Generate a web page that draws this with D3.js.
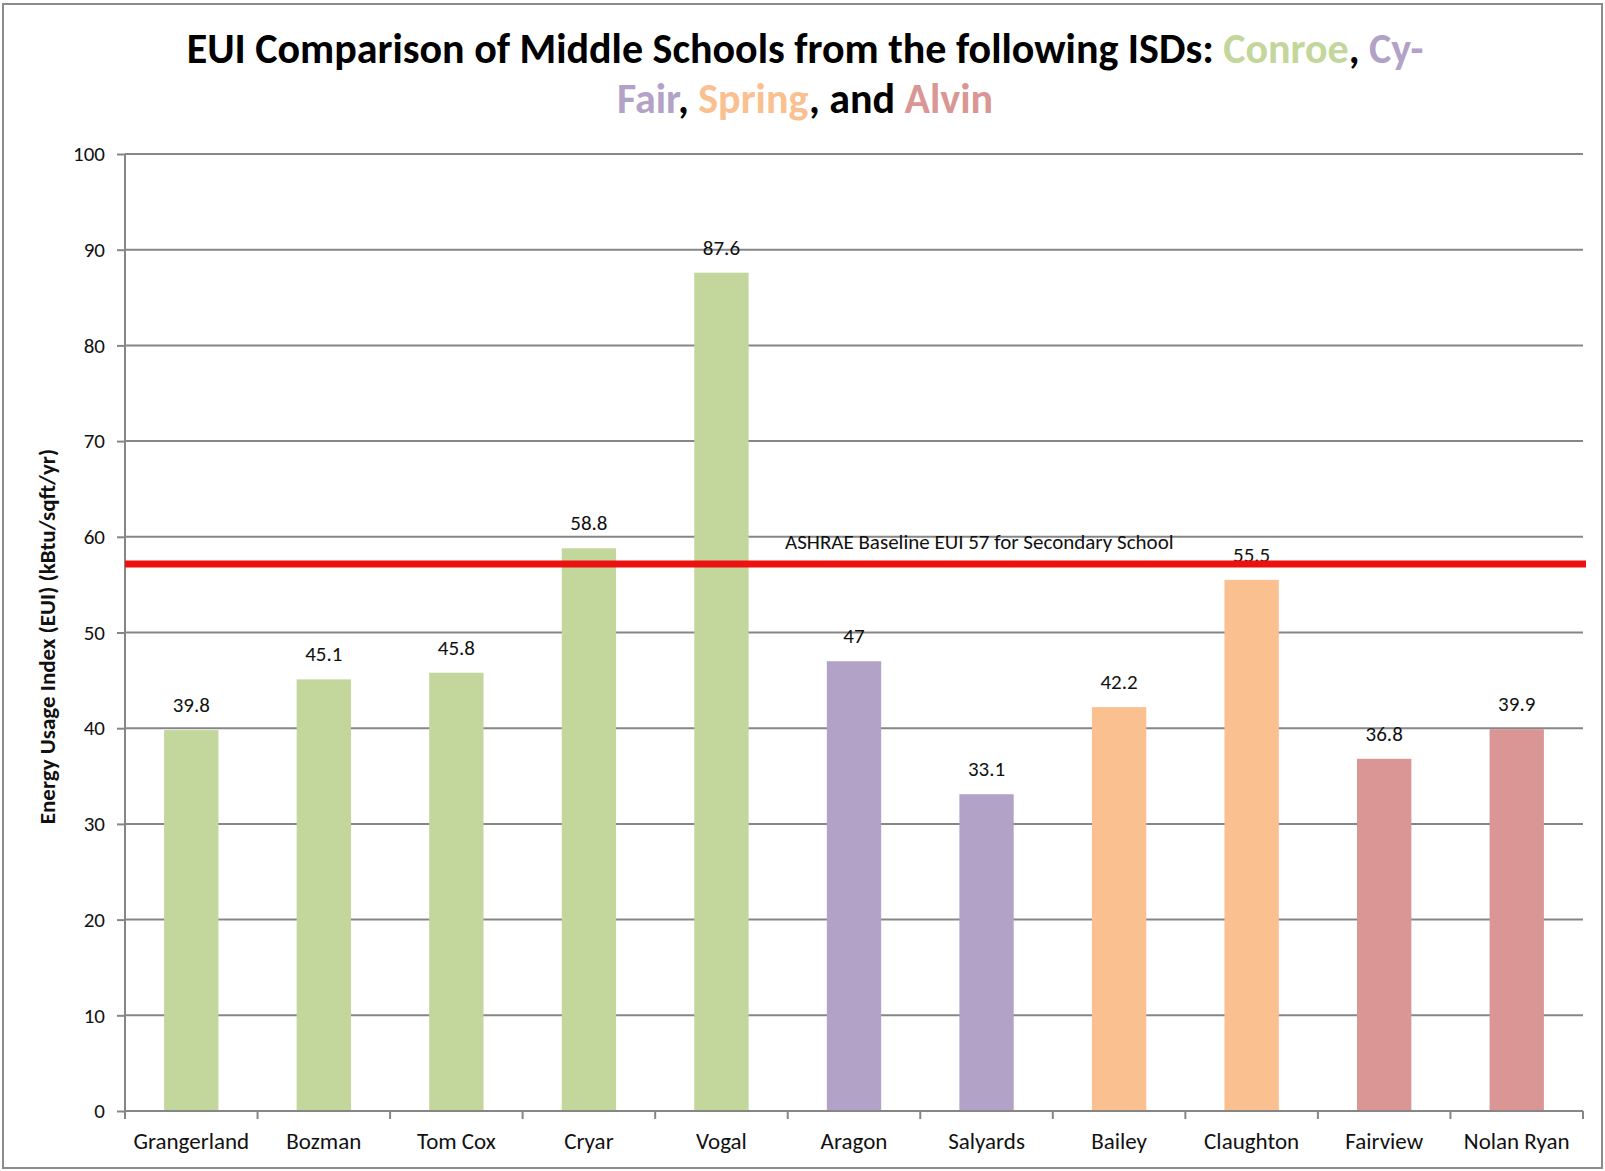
<!DOCTYPE html>
<html>
<head>
<meta charset="utf-8">
<script src="https://cdn.jsdelivr.net/npm/d3@7"></script>
<style>
  body { margin: 0; background: #fff; }
  svg { display: block; }
</style>
</head>
<body>
<svg id="chart" width="1605" height="1171"></svg>
<script>
const schools = ["Grangerland", "Bozman", "Tom Cox", "Cryar", "Vogal", "Aragon", "Salyards", "Bailey", "Claughton", "Fairview", "Nolan Ryan"];
const eui = [39.8, 45.1, 45.8, 58.8, 87.6, 47, 33.1, 42.2, 55.5, 36.8, 39.9];
const district = ["Conroe", "Conroe", "Conroe", "Conroe", "Conroe", "Cy-Fair", "Cy-Fair", "Spring", "Spring", "Alvin", "Alvin"];
const yTicks = [0, 10, 20, 30, 40, 50, 60, 70, 80, 90, 100];
const baseline = 57;

const districtColor = {
  "Conroe": "#c3d69b",
  "Cy-Fair": "#b3a2c7",
  "Spring": "#fac090",
  "Alvin": "#d99694"
};

const font = "Carlito, Lato, 'Open Sans', sans-serif";
let margin = { top: 154, right: 22, bottom: 60, left: 125 };
let width = 1605, height = 1171;
let svg = d3.select("#chart");

// outer frame
svg.append("rect")
  .attr("x", 3).attr("y", 4)
  .attr("width", 1599).attr("height", 1164)
  .style("fill", "none")
  .style("stroke", "#8c8c8c")
  .style("stroke-width", 2);

let x = d3.scaleBand()
  .domain(schools)
  .range([margin.left, width - margin.right])
  .paddingInner(0.59)
  .paddingOuter(0.295);

let y = d3.scaleLinear()
  .domain([0, 100])
  .range([height - margin.bottom, margin.top]);

// gridlines + y axis
let yAxis = svg.append("g")
  .attr("transform", `translate(${margin.left},0)`)
  .call(d3.axisLeft(y).tickValues(yTicks).tickSize(8).tickPadding(12))
  .call(g => g.select(".domain").remove());

yAxis.selectAll(".tick line").style("stroke", "#868686").style("stroke-width", 2);
yAxis.selectAll(".tick text")
  .style("font-family", font)
  .style("font-size", "21px")
  .style("fill", "#111");

svg.append("g")
  .selectAll("line")
  .data(yTicks)
  .join("line")
  .attr("x1", margin.left)
  .attr("x2", width - margin.right)
  .attr("y1", d => y(d))
  .attr("y2", d => y(d))
  .style("stroke", "#868686")
  .style("stroke-width", 2);

// bars
svg.append("g")
  .selectAll("rect")
  .data(schools)
  .join("rect")
  .attr("x", d => x(d))
  .attr("width", x.bandwidth())
  .attr("y", (d, i) => y(eui[i]))
  .attr("height", (d, i) => y(0) - y(eui[i]))
  .style("fill", (d, i) => districtColor[district[i]]);

// value labels
svg.append("g")
  .selectAll("text")
  .data(schools)
  .join("text")
  .attr("x", d => x(d) + x.bandwidth() / 2)
  .attr("y", (d, i) => y(eui[i]) - 18)
  .attr("text-anchor", "middle")
  .style("font-family", font)
  .style("font-size", "21px")
  .style("fill", "#111")
  .text((d, i) => eui[i]);

// y axis line
svg.append("line")
  .attr("x1", margin.left).attr("x2", margin.left)
  .attr("y1", y(100)).attr("y2", y(0) + 8)
  .style("stroke", "#868686")
  .style("stroke-width", 2);

// x axis
let step = x.step();
let xBounds = d3.range(schools.length + 1).map(i => margin.left + i * step);
svg.append("line")
  .attr("x1", margin.left).attr("x2", width - margin.right)
  .attr("y1", y(0)).attr("y2", y(0))
  .style("stroke", "#868686")
  .style("stroke-width", 2);
svg.append("g")
  .selectAll("line")
  .data(xBounds)
  .join("line")
  .attr("x1", d => d).attr("x2", d => d)
  .attr("y1", y(0)).attr("y2", y(0) + 8)
  .style("stroke", "#868686")
  .style("stroke-width", 2);

svg.append("g")
  .selectAll("text")
  .data(schools)
  .join("text")
  .attr("x", d => x(d) + x.bandwidth() / 2)
  .attr("y", y(0) + 38)
  .attr("text-anchor", "middle")
  .style("font-family", font)
  .style("font-size", "23px")
  .style("fill", "#111")
  .text(d => d);

// ASHRAE baseline
svg.append("text")
  .attr("x", 785)
  .attr("y", y(baseline) - 17)
  .style("font-family", font)
  .style("font-size", "21px")
  .style("fill", "#111")
  .text("ASHRAE Baseline EUI " + baseline + " for Secondary School");

svg.append("line")
  .attr("x1", margin.left).attr("x2", 1586)
  .attr("y1", y(baseline) - 1.5).attr("y2", y(baseline) - 1.5)
  .style("stroke", "#ee1111")
  .style("stroke-width", 7);

// y axis title
svg.append("text")
  .attr("transform", `translate(55,${(y(0) + y(100)) / 2 + 4}) rotate(-90)`)
  .attr("text-anchor", "middle")
  .style("font-family", font)
  .style("font-size", "23px")
  .style("font-weight", "bold")
  .style("fill", "#111")
  .text("Energy Usage Index (EUI) (kBtu/sqft/yr)");

// title
let title1 = svg.append("text")
  .attr("x", 805).attr("y", 63)
  .attr("text-anchor", "middle")
  .style("font-family", font)
  .style("font-size", "42px")
  .style("font-weight", "bold")
  .style("fill", "#000");
title1.append("tspan").text("EUI Comparison of Middle Schools from the following ISDs: ");
title1.append("tspan").style("fill", districtColor["Conroe"]).text("Conroe");
title1.append("tspan").text(", ");
title1.append("tspan").style("fill", districtColor["Cy-Fair"]).text("Cy-");

let title2 = svg.append("text")
  .attr("x", 805).attr("y", 113)
  .attr("text-anchor", "middle")
  .style("font-family", font)
  .style("font-size", "42px")
  .style("font-weight", "bold")
  .style("fill", "#000");
title2.append("tspan").style("fill", districtColor["Cy-Fair"]).text("Fair");
title2.append("tspan").text(", ");
title2.append("tspan").style("fill", districtColor["Spring"]).text("Spring");
title2.append("tspan").text(", and ");
title2.append("tspan").style("fill", districtColor["Alvin"]).text("Alvin");
</script>
</body>
</html>
